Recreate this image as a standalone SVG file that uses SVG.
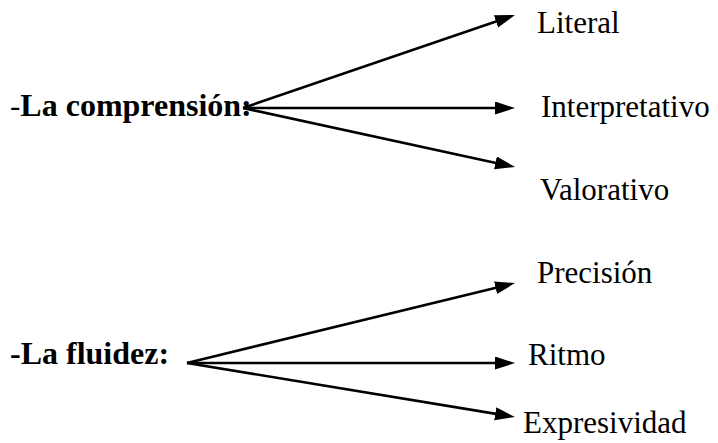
<svg xmlns="http://www.w3.org/2000/svg" width="718" height="443" viewBox="0 0 718 443">
<style>
text{font-family:"Liberation Serif","Times New Roman",serif;font-size:31px;fill:#000}
.b{font-weight:bold;font-size:32px}
.c line{stroke:#000;stroke-width:2.6;marker-end:url(#ah)}
</style>
<defs>
<marker id="ah" markerUnits="userSpaceOnUse" markerWidth="22" markerHeight="14" refX="10" refY="6.5" orient="auto" viewBox="0 0 22 14">
<path d="M0,0 L20,6.5 L0,13 z" fill="#000"/>
</marker>
</defs>
<rect width="718" height="443" fill="#fff"/>
<g id="comprension"><text x="10" y="116">-<tspan class="b">La comprensión:</tspan></text></g>
<g id="literal"><text x="537" y="33">Literal</text></g>
<g id="interpretativo"><text x="541" y="117">Interpretativo</text></g>
<g id="valorativo"><text x="540" y="200">Valorativo</text></g>
<g id="fluidez"><text class="b" x="10" y="364">-La fluidez:</text></g>
<g id="precision"><text x="537" y="283">Precisión</text></g>
<g id="ritmo"><text x="528" y="365">Ritmo</text></g>
<g id="expresividad"><text x="523" y="433">Expresividad</text></g>
<g class="c" id="connectors">
<line x1="243" y1="108" x2="505.5" y2="18.2"/>
<line x1="243" y1="108" x2="505" y2="108"/>
<line x1="243" y1="108" x2="505.2" y2="164.9"/>
<line x1="187" y1="363" x2="505.3" y2="285.4"/>
<line x1="187" y1="363" x2="505" y2="363"/>
<line x1="187" y1="363" x2="505.1" y2="415.4"/>
</g>
</svg>
